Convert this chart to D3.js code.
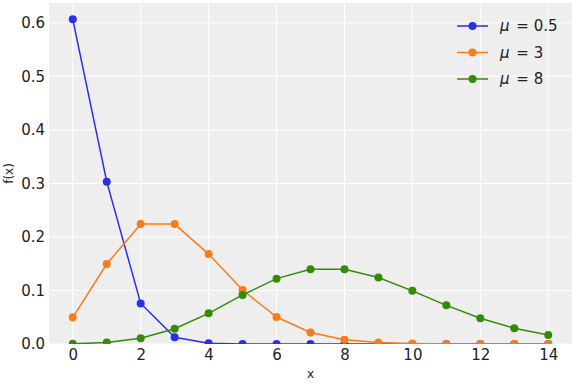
<!DOCTYPE html>
<html lang="en">
<head>
  <meta charset="utf-8">
  <script src="https://d3js.org/d3.v7.min.js"></script>
  <style>
    body { margin: 0; background: #fff; }
    text { font-family: "DejaVu Sans", sans-serif; fill: #222; }
  </style>
</head>
<body>
  <div id="chart"></div>
  <script>
    // Poisson pmf values
    var xs = [0, 1, 2, 3, 4, 5, 6, 7, 8, 9, 10, 11, 12, 13, 14];
    var mu05 = [0.6065, 0.3033, 0.0758, 0.0126, 0.0016, 0.0002, 0.0000, 0.0000, 0.0000, 0.0000, 0.0000, 0.0000, 0.0000, 0.0000, 0.0000];
    var mu3 = [0.0498, 0.1494, 0.2240, 0.2240, 0.1680, 0.1008, 0.0504, 0.0216, 0.0081, 0.0027, 0.0008, 0.0002, 0.0001, 0.0000, 0.0000];
    var mu8 = [0.0003, 0.0027, 0.0107, 0.0286, 0.0573, 0.0916, 0.1221, 0.1396, 0.1396, 0.1241, 0.0993, 0.0722, 0.0481, 0.0296, 0.0169];
    var seriesNames = ["0.5", "3", "8"];
    var colors = ["#2a2eec", "#fa7c17", "#328c06"];
    var xTicks = [0, 2, 4, 6, 8, 10, 12, 14];
    var yTicks = [0, 0.1, 0.2, 0.3, 0.4, 0.5, 0.6];

    var width = 576, height = 384;
    var margin = {left: 49, right: 4, top: 3, bottom: 40};

    var svg = d3.select("#chart").append("svg")
      .attr("width", width)
      .attr("height", height);

    var x = d3.scaleLinear().domain([-0.7, 14.7]).range([margin.left, width - margin.right]);
    var y = d3.scaleLinear().domain([0, 0.637]).range([height - margin.bottom, margin.top]);

    svg.append("defs").append("clipPath").attr("id", "clip")
      .append("rect")
      .attr("x", margin.left).attr("y", margin.top)
      .attr("width", width - margin.left - margin.right)
      .attr("height", height - margin.top - margin.bottom);

    svg.append("rect")
      .attr("x", margin.left).attr("y", margin.top)
      .attr("width", width - margin.left - margin.right)
      .attr("height", height - margin.top - margin.bottom)
      .attr("fill", "#eeeeee");

    // grid
    svg.append("g").selectAll("line").data(xTicks).enter().append("line")
      .attr("x1", d => x(d)).attr("x2", d => x(d))
      .attr("y1", margin.top).attr("y2", height - margin.bottom)
      .attr("stroke", "#fff").attr("stroke-width", 1);
    svg.append("g").selectAll("line").data(yTicks).enter().append("line")
      .attr("y1", d => y(d)).attr("y2", d => y(d))
      .attr("x1", margin.left).attr("x2", width - margin.right)
      .attr("stroke", "#fff").attr("stroke-width", 1);

    // axes (labels only, no ticks/spines)
    var xAxis = svg.append("g")
      .attr("transform", "translate(0," + (height - margin.bottom) + ")")
      .call(d3.axisBottom(x).tickValues(xTicks).tickSize(0).tickPadding(5));
    var yAxis = svg.append("g")
      .attr("transform", "translate(" + margin.left + ",0)")
      .call(d3.axisLeft(y).tickValues(yTicks).tickFormat(d3.format(".1f")).tickSize(0).tickPadding(4));
    [xAxis, yAxis].forEach(function(a) {
      a.select(".domain").remove();
      a.attr("font-size", 15).attr("font-family", "DejaVu Sans");
      a.selectAll("text").attr("fill", "#222");
    });

    svg.append("text")
      .attr("x", (margin.left + width - margin.right) / 2)
      .attr("y", 378)
      .attr("text-anchor", "middle")
      .attr("font-size", 12)
      .text("x");
    svg.append("text")
      .attr("transform", "translate(13," + ((margin.top + height - margin.bottom) / 2) + ") rotate(-90)")
      .attr("text-anchor", "middle")
      .attr("font-size", 12)
      .text("f(x)");

    var series = [mu05, mu3, mu8];
    var line = d3.line().x((d, i) => x(xs[i])).y(d => y(d));
    var plot = svg.append("g").attr("clip-path", "url(#clip)");

    series.forEach(function(vals, k) {
      var g = plot.append("g");
      g.append("path")
        .datum(vals)
        .attr("d", line)
        .attr("fill", "none")
        .attr("stroke", colors[k])
        .attr("stroke-width", 1.5);
      g.selectAll("circle").data(vals).enter().append("circle")
        .attr("cx", (d, i) => x(xs[i]))
        .attr("cy", d => y(d))
        .attr("r", 4)
        .attr("fill", colors[k]);
    });

    // legend
    var legend = svg.append("g").attr("transform", "translate(457,26)");
    seriesNames.forEach(function(name, k) {
      var row = legend.append("g").attr("transform", "translate(0," + (k * 26.5) + ")");
      row.append("line").attr("x1", 0).attr("x2", 31).attr("y1", 0).attr("y2", 0)
        .attr("stroke", colors[k]).attr("stroke-width", 1.5);
      row.append("circle").attr("cx", 15.5).attr("cy", 0).attr("r", 4).attr("fill", colors[k]);
      var t = row.append("text").attr("x", 43).attr("y", 5).attr("font-size", 15);
      t.append("tspan").style("font-style", "italic").text("μ");
      t.append("tspan").attr("dx", 2).text(" = " + name);
    });
  </script>
</body>
</html>
